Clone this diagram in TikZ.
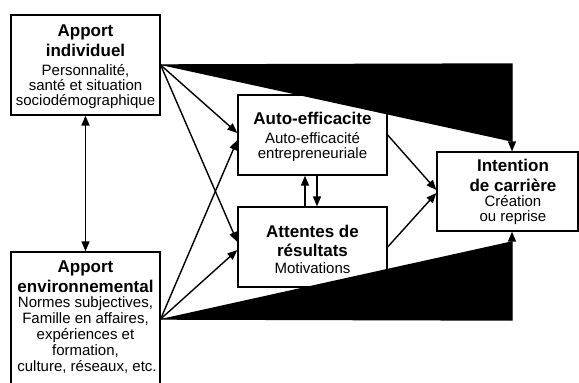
\documentclass[tikz,border=0pt]{standalone}
\usepackage{fontspec}
\setmainfont{Liberation Sans}
\usetikzlibrary{arrows.meta}
\begin{document}
\begin{tikzpicture}[x=1pt,y=-1pt,
  box/.style={draw=black, line width=1.3pt, fill=white, inner sep=0pt},
  ttl/.style={anchor=base, inner sep=0pt, font=\fontsize{17}{20}\selectfont\bfseries},
  txt/.style={anchor=base, inner sep=0pt, font=\fontsize{15}{16}\selectfont},
  arr/.style={line width=1.4pt, -{Triangle[length=10pt,width=8pt]}},
  darr/.style={line width=1.4pt, {Triangle[length=10pt,width=8pt]}-{Triangle[length=10pt,width=8pt]}},
  wedge/.style={line width=1.4pt, fill=black, -{Triangle[length=10pt,width=8pt]}}]
\useasboundingbox (0,0) rectangle (579,383);
\clip (0,0) rectangle (579,383);
% boxes
\node[box, minimum width=149pt, minimum height=100pt] (ind) at (85.5,65) {};
\node[box, minimum width=149pt, minimum height=134pt] (env) at (85.5,319) {};
\node[box, minimum width=149pt, minimum height=80pt] (auto) at (312.5,135) {};
\node[box, minimum width=149pt, minimum height=80pt] (att) at (312.5,247) {};
\node[box, minimum width=141pt, minimum height=79pt] (int) at (507.5,191.5) {};
% texts
\node[ttl] (t1) at (85.5,36) {Apport};
\node[ttl] (t2) at (85.5,56) {individuel};
\node[txt] (t3) at (85.5,75) {Personnalité,};
\node[txt] (t4) at (85.5,90) {santé et situation};
\node[txt] (t5) at (85.5,105) {sociodémographique};
\node[ttl] (e1) at (85.5,272) {Apport};
\node[ttl] (e2) at (85.5,292) {environnemental};
\node[txt] (e3) at (85.5,307) {Normes subjectives,};
\node[txt] (e4) at (85.5,323) {Famille en affaires,};
\node[txt] (e5) at (85.5,339) {expériences et};
\node[txt] (e6) at (85.5,355) {formation,};
\node[txt] (e7) at (87,371) {culture, réseaux, etc.};
\node[ttl] (a1) at (312.5,124) {Auto-efficacite};
\node[txt] (a2) at (312.5,143) {Auto-efficacité};
\node[txt] (a3) at (312.5,158) {entrepreneuriale};
\node[ttl] (r1) at (312.5,237) {Attentes de};
\node[ttl] (r2) at (312.5,256) {résultats};
\node[txt] (r3) at (312.5,273) {Motivations};
\node[ttl] (i1) at (513,171) {Intention};
\node[ttl] (i2) at (513,191) {de carrière};
\node[txt] (i3) at (513,206) {Création};
\node[txt] (i4) at (513,221) {ou reprise};
% connectors
\draw[arr] (ind.east) -- ([yshift=2pt]auto.west);
\draw[arr] (ind.east) -- ([yshift=5pt]att.west);
\draw[arr] (env.east) -- ([yshift=-5pt]auto.west);
\draw[arr] (env.east) -- ([yshift=-3pt]att.west);
\draw[arr] (auto.east) -- ([yshift=1.5pt]int.west);
\draw[arr] (att.east) -- ([yshift=-1.5pt]int.west);
\draw[arr] ([xshift=-7.5pt]att.north) -- ([xshift=-7.5pt]auto.south);
\draw[arr] ([xshift=4.5pt]auto.south) -- ([xshift=4.5pt]att.north);
\draw[darr] (ind.south) -- (env.north);
% black wedges
\coordinate (c1) at (512,64);
\coordinate (c2) at (512,320);
\draw[wedge] (ind.east) -- (c1) -- (c1 |- int.north);
\draw[wedge] (env.east) -- (c2) -- (c2 |- int.south);
\end{tikzpicture}
\end{document}
